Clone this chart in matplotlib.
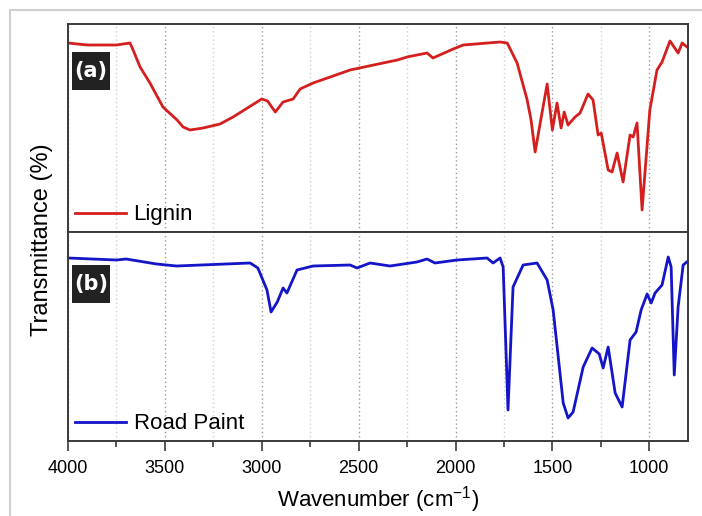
import numpy as np
import matplotlib
matplotlib.use("Agg")
import matplotlib.pyplot as plt
from matplotlib.lines import Line2D
from matplotlib.patches import Rectangle
from matplotlib.ticker import MultipleLocator

plt.rcParams["font.family"] = ["Liberation Sans", "DejaVu Sans"]

# --- FTIR spectra (arbitrary transmittance units) ---
lignin_wn = [4000, 3900, 3750, 3680, 3664, 3628, 3577, 3510, 3437, 3406,
             3370, 3303, 3215, 3148, 3000, 2970, 2930, 2890, 2838, 2802,
             2735, 2544, 2374, 2300, 2250, 2147, 2116, 2012, 1960, 1770,
             1733, 1682, 1630, 1610, 1589, 1560, 1527, 1500, 1476, 1455,
             1439, 1419, 1383, 1357, 1316, 1290, 1264, 1248, 1212, 1192,
             1166, 1135, 1099, 1083, 1063, 1037, 997, 960, 934, 893,
             851, 830, 805]
lignin_t = [189, 187, 187, 189, 182, 165, 149, 125, 112, 105,
            102, 104, 108, 115, 133, 131, 120, 130, 133, 143,
            149, 162, 169, 172, 175, 179, 174, 183, 187, 190,
            189, 169, 132, 112, 80, 112, 148, 102, 129, 104,
            120, 107, 115, 119, 138, 132, 97, 99, 62, 60,
            79, 50, 97, 95, 109, 22, 122, 162, 170, 191,
            179, 189, 185]

paint_wn = [4000, 3750, 3700, 3543, 3440, 3060, 3020, 2973, 2952, 2920,
            2890, 2870, 2818, 2735, 2544, 2508, 2441, 2338, 2199, 2147,
            2106, 1992, 1837, 1806, 1770, 1754, 1729, 1703, 1651, 1579,
            1527, 1496, 1444, 1419, 1393, 1341, 1295, 1258, 1238, 1212,
            1176, 1140, 1099, 1068, 1042, 1011, 990, 970, 934, 902,
            887, 871, 851, 825, 800]
paint_t = [183, 181, 182, 177, 175, 178, 173, 151, 129, 139,
           153, 148, 171, 175, 176, 173, 178, 175, 179, 182,
           178, 181, 183, 178, 183, 174, 31, 154, 176, 178,
           161, 131, 38, 23, 29, 74, 93, 87, 73, 94,
           48, 34, 101, 109, 131, 147, 138, 148, 156, 184,
           174, 66, 134, 176, 180]

panels = [("(a)", "Lignin", lignin_wn, lignin_t, "#d41f1f"),
          ("(b)", "Road Paint", paint_wn, paint_t, "#1414c8")]

fig = plt.figure(figsize=(7.02, 5.16), dpi=100)

# light frame of the original screenshot
fig.add_artist(Line2D([10 / 702, 10 / 702], [0, 1 - 10 / 516], transform=fig.transFigure,
                      color="#d0d0d0", lw=1.5))
fig.add_artist(Line2D([10 / 702, 1], [1 - 10 / 516, 1 - 10 / 516], transform=fig.transFigure,
                      color="#d0d0d0", lw=1.5))

left, width = 68 / 702, 620 / 702
boxes = [(1 - 232 / 516, 208 / 516), (1 - 441 / 516, 209 / 516)]
tag_y = [52, 265]  # top of the black tag box, px from top of figure

axes = []
for (tag, name, wn, t, col), (bottom, height), ty in zip(panels, boxes, tag_y):
    ax = fig.add_axes([left, bottom, width, height])
    ax.plot(wn, t, color=col, lw=2, label=name)
    ax.set_xlim(4000, 800)
    ax.set_ylim(0, height * 516)
    ax.set_yticks([])
    ax.xaxis.set_major_locator(MultipleLocator(500))
    ax.xaxis.set_minor_locator(MultipleLocator(250))
    ax.grid(True, which="major", axis="x", ls=(0, (1, 2)), color="#9a9a9a", lw=1)
    ax.grid(True, which="minor", axis="x", ls=(0, (1, 2)), color="#d0d0d0", lw=1)
    for s in ax.spines.values():
        s.set_color("#3a3a3a")
        s.set_linewidth(1.4)
    # black square tag with white bold letter
    fig.add_artist(Rectangle((72 / 702, 1 - (ty + 38) / 516), 38 / 702, 38 / 516,
                             transform=fig.transFigure, fc="#222222", ec="none"))
    fig.text(91 / 702, 1 - (ty + 19) / 516, tag, color="white", fontsize=15,
             fontweight="bold", ha="center", va="center", family="DejaVu Sans")
    ax.legend(loc="lower left", frameon=False, fontsize=16, handlelength=2.3,
              handletextpad=0.35, borderaxespad=0.0, borderpad=0.3)
    axes.append(ax)

axes[0].tick_params(axis="x", which="both", bottom=False, labelbottom=False)
axes[1].tick_params(axis="x", which="major", direction="out", length=7, width=1.2,
                    labelsize=13, color="#3a3a3a", pad=7)
axes[1].tick_params(axis="x", which="minor", direction="out", length=4, width=1.2,
                    color="#3a3a3a")
axes[1].set_xlabel("Wavenumber (cm$^{\\mathregular{-1}}$)", fontsize=16, labelpad=5)
fig.text(42 / 702, 1 - 240 / 516, "Transmittance (%)", rotation=90, ha="center",
         va="center", fontsize=17)

fig.savefig("out.png", dpi=100)
